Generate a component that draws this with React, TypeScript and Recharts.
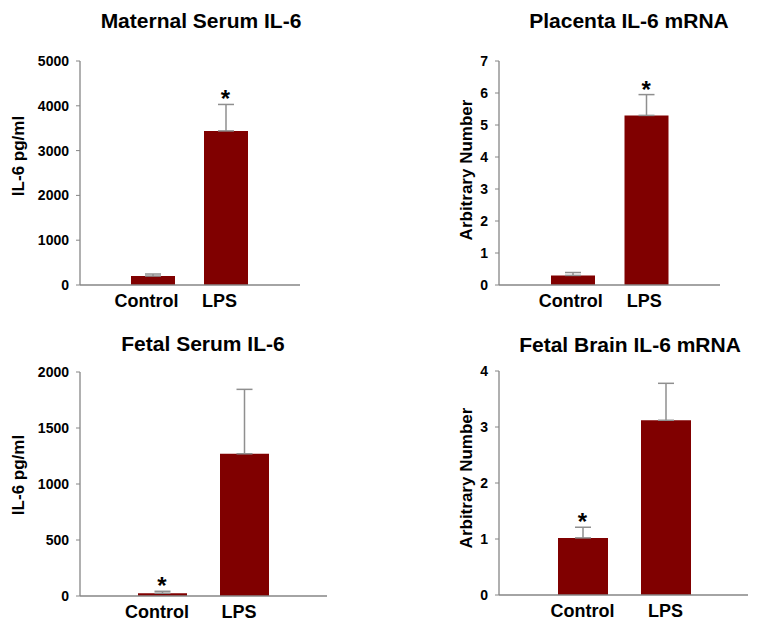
import React from "react";
import { ComposedChart, Bar, ErrorBar, Scatter, XAxis, YAxis } from "recharts";

const categories = ["Control", "LPS"];

const maternalSerumMean = [200, 3440];
const maternalSerumSem = [45, 590];
const maternalSerumStar = [false, true];
const maternalSerumTicks = [0, 1000, 2000, 3000, 4000, 5000];

const placentaMean = [0.3, 5.3];
const placentaSem = [0.09, 0.65];
const placentaStar = [false, true];
const placentaTicks = [0, 1, 2, 3, 4, 5, 6, 7];

const fetalSerumMean = [25, 1270];
const fetalSerumSem = [17, 575];
const fetalSerumStar = [true, false];
const fetalSerumTicks = [0, 500, 1000, 1500, 2000];

const fetalBrainMean = [1.02, 3.12];
const fetalBrainSem = [0.19, 0.66];
const fetalBrainStar = [true, false];
const fetalBrainTicks = [0, 1, 2, 3, 4];

const FONT = "'Liberation Sans', Arial, sans-serif";
const BAR_COLOR = "#800000";
const AXIS_COLOR = "#868686";

function buildRows(means: number[], sems: number[], stars: boolean[]) {
  return categories.map((name, i) => ({
    name,
    mean: means[i],
    err: [0, sems[i]],
    star: stars[i] ? means[i] + sems[i] : null,
  }));
}

const StarMark = (props: any) => {
  if (!props.payload || props.payload.star == null) return <g />;
  return (
    <text
      x={props.cx}
      y={props.cy + 3}
      textAnchor="middle"
      fontSize={24}
      fontWeight="bold"
      fontFamily={FONT}
      fill="#000"
    >
      *
    </text>
  );
};

type PanelProps = {
  means: number[];
  sems: number[];
  stars: boolean[];
  ticks: number[];
  yLabel: string;
  left: number;
  top: number;
  width: number;
  height: number;
  marginTop: number;
  marginRight: number;
  yAxisWidth: number;
  xAxisHeight: number;
  padLeft: number;
  padRight: number;
  barSize: number;
  labelOffset: number;
  labelShift: number;
  tickDx: number;
};

function Panel(p: PanelProps) {
  const rows = buildRows(p.means, p.sems, p.stars);
  const max = p.ticks[p.ticks.length - 1];

  // rotated y title, nudged up/down a bit like the original
  const renderYLabel = (props: any) => {
    const vb = props.viewBox || {};
    const x = (vb.x || 0) + p.labelOffset;
    const y = (vb.y || 0) + (vb.height || 0) / 2 + p.labelShift;
    return (
      <text
        x={x}
        y={y}
        transform={`rotate(-90, ${x}, ${y})`}
        textAnchor="middle"
        dominantBaseline="central"
        fontSize={17}
        fontWeight="bold"
        fontFamily={FONT}
        fill="#000"
      >
        {p.yLabel}
      </text>
    );
  };

  return (
    <div style={{ position: "absolute", left: p.left, top: p.top }}>
      <ComposedChart
        width={p.width}
        height={p.height}
        data={rows}
        margin={{ top: p.marginTop, right: p.marginRight, bottom: 0, left: 0 }}
      >
        <XAxis
          dataKey="name"
          height={p.xAxisHeight}
          padding={{ left: p.padLeft, right: p.padRight }}
          axisLine={{ stroke: AXIS_COLOR, strokeWidth: 1.3 }}
          tickLine={false}
          tickMargin={3}
          tick={{
            fontSize: 18,
            fontWeight: "bold",
            fontFamily: FONT,
            fill: "#000",
            dx: p.tickDx,
          }}
        />
        <YAxis
          width={p.yAxisWidth}
          domain={[0, max]}
          ticks={p.ticks}
          interval={0}
          allowDataOverflow
          axisLine={{ stroke: AXIS_COLOR, strokeWidth: 1.3 }}
          tickLine={{ stroke: AXIS_COLOR }}
          tickSize={4}
          tickMargin={7}
          tick={{ fontSize: 14, fontWeight: "bold", fontFamily: FONT, fill: "#000" }}
          label={{ content: renderYLabel }}
        />
        <Bar dataKey="mean" fill={BAR_COLOR} barSize={p.barSize} isAnimationActive={false}>
          <ErrorBar dataKey="err" width={8} stroke="#8f8f8f" strokeWidth={1.5} />
        </Bar>
        <Scatter dataKey="star" shape={<StarMark />} isAnimationActive={false} />
      </ComposedChart>
    </div>
  );
}

const titles = [
  { text: "Maternal Serum IL-6", x: 201, y: 28 },
  { text: "Placenta IL-6 mRNA", x: 629, y: 28 },
  { text: "Fetal Serum IL-6", x: 203, y: 351 },
  { text: "Fetal Brain IL-6 mRNA", x: 630, y: 352 },
];

export default function App() {
  return (
    <div
      style={{
        position: "absolute",
        left: 0,
        top: 0,
        width: 761,
        height: 635,
        background: "#fff",
        overflow: "hidden",
      }}
    >
      <svg width={761} height={635} style={{ position: "absolute", left: 0, top: 0 }}>
        {titles.map((t) => (
          <text
            key={t.text}
            x={t.x}
            y={t.y}
            textAnchor="middle"
            fontSize={21}
            fontWeight="bold"
            fontFamily={FONT}
            fill="#000"
          >
            {t.text}
          </text>
        ))}
      </svg>
      <Panel
        means={maternalSerumMean}
        sems={maternalSerumSem}
        stars={maternalSerumStar}
        ticks={maternalSerumTicks}
        yLabel="IL-6 pg/ml"
        left={0}
        top={0}
        width={380}
        height={320}
        marginTop={61}
        marginRight={80}
        yAxisWidth={80}
        xAxisHeight={35}
        padLeft={36}
        padRight={38}
        barSize={44}
        labelOffset={18}
        labelShift={-17}
        tickDx={-6}
      />
      <Panel
        means={placentaMean}
        sems={placentaSem}
        stars={placentaStar}
        ticks={placentaTicks}
        yLabel="Arbitrary Number"
        left={380}
        top={0}
        width={381}
        height={320}
        marginTop={61}
        marginRight={41}
        yAxisWidth={119}
        xAxisHeight={35}
        padLeft={37}
        padRight={37}
        barSize={44}
        labelOffset={86}
        labelShift={-3}
        tickDx={-2}
      />
      <Panel
        means={fetalSerumMean}
        sems={fetalSerumSem}
        stars={fetalSerumStar}
        ticks={fetalSerumTicks}
        yLabel="IL-6 pg/ml"
        left={0}
        top={320}
        width={380}
        height={315}
        marginTop={52}
        marginRight={53}
        yAxisWidth={80}
        xAxisHeight={39}
        padLeft={41}
        padRight={42}
        barSize={49}
        labelOffset={18}
        labelShift={-9}
        tickDx={-5}
      />
      <Panel
        means={fetalBrainMean}
        sems={fetalBrainSem}
        stars={fetalBrainStar}
        ticks={fetalBrainTicks}
        yLabel="Arbitrary Number"
        left={380}
        top={320}
        width={381}
        height={315}
        marginTop={51}
        marginRight={13}
        yAxisWidth={119}
        xAxisHeight={40}
        padLeft={42}
        padRight={41}
        barSize={50}
        labelOffset={86}
        labelShift={-5}
        tickDx={0}
      />
    </div>
  );
}
